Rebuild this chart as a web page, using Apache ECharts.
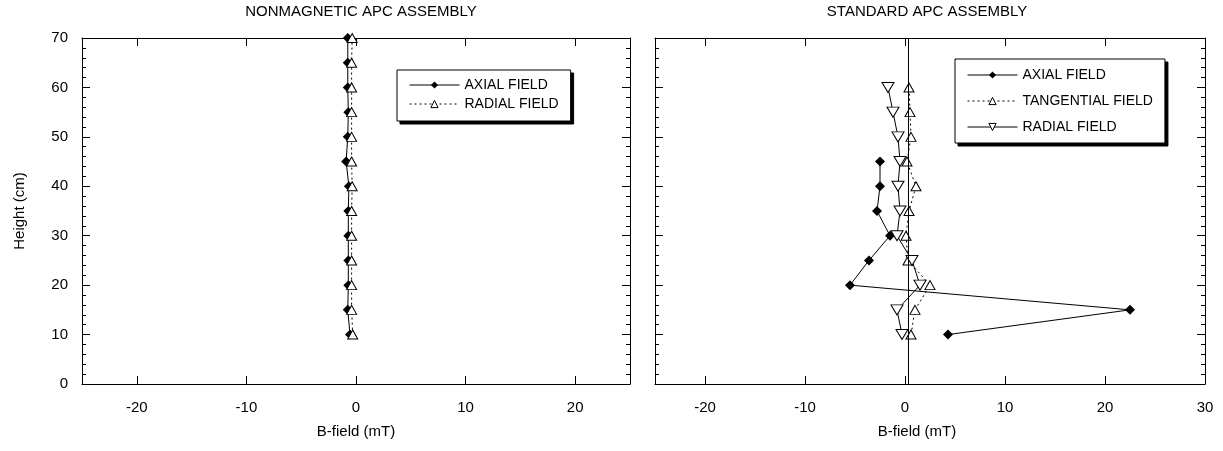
<!DOCTYPE html>
<html>
<head>
<meta charset="utf-8">
<script src="https://cdn.jsdelivr.net/npm/echarts@6/dist/echarts.min.js"></script>
<style>
    html, body { margin: 0; padding: 0; background: #fff; }
    #chart { width: 1223px; height: 451px; }
</style>
</head>
<body>
<div id="chart"></div>
<script>
// heights (cm)
var leftHeights = [10, 15, 20, 25, 30, 35, 40, 45, 50, 55, 60, 65, 70];
var leftAxial = [-0.55, -0.75, -0.7, -0.7, -0.7, -0.7, -0.65, -0.9, -0.75, -0.7, -0.75, -0.75, -0.75];
var leftRadial = [-0.3, -0.4, -0.4, -0.4, -0.4, -0.4, -0.35, -0.4, -0.4, -0.4, -0.4, -0.4, -0.35];

var axialHeights = [10, 15, 20, 25, 30, 35, 40, 45];
var rightAxial = [4.3, 22.5, -5.5, -3.6, -1.5, -2.8, -2.5, -2.5];
var rightHeights = [10, 15, 20, 25, 30, 35, 40, 45, 50, 55, 60];
var rightTangential = [0.6, 1.0, 2.5, 0.3, 0.1, 0.4, 1.1, 0.2, 0.6, 0.5, 0.4];
var rightRadial = [-0.3, -0.8, 1.5, 0.7, -0.8, -0.5, -0.7, -0.5, -0.7, -1.2, -1.7];
var zeroLine = 0.3;

// tick labels
var leftTicks = [-20, -10, 0, 10, 20];
var rightTicks = [-20, -10, 0, 10, 20, 30];

var leftNames = ['AXIAL FIELD', 'RADIAL FIELD'];
var rightNames = ['AXIAL FIELD ', 'TANGENTIAL FIELD', 'RADIAL FIELD '];

var font = 'Liberation Sans';
var downTri = 'path://M0,0 L10,0 L5,9 Z';

function pairs(xs, ys) {
    return xs.map(function (x, i) { return [x, ys[i]]; });
}

function xAx(grid, pos, min, max, ticks, show, shift) {
    return {
        type: 'value', gridIndex: grid, position: pos, min: min, max: max,
        axisLine: {show: true, onZero: false, lineStyle: {color: '#000', width: 1}},
        axisTick: {show: true, inside: true, length: 8, customValues: ticks, lineStyle: {color: '#000', width: 1}},
        axisLabel: {show: show, margin: 16, customValues: ticks, color: '#000', fontSize: 15, fontFamily: font},
        splitLine: {show: false},
        name: show ? 'B-field (mT)' : '',
        nameLocation: 'middle', nameGap: 40,
        nameTextStyle: {color: '#000', fontSize: 15, fontFamily: font, padding: [0, shift || 0, 0, 0]}
    };
}

function yAx(grid, pos, show, name) {
    return {
        type: 'value', gridIndex: grid, position: pos, min: 0, max: 70, interval: 10,
        axisLine: {show: true, onZero: false, lineStyle: {color: '#000', width: 1}},
        axisTick: {show: true, inside: true, length: 8, lineStyle: {color: '#000', width: 1}},
        minorTick: {show: true, splitNumber: 5, length: 4, lineStyle: {color: '#000', width: 1}},
        axisLabel: {show: show, margin: 14, color: '#000', fontSize: 15, fontFamily: font},
        splitLine: {show: false},
        name: name || '',
        nameLocation: 'middle', nameGap: 55,
        nameTextStyle: {color: '#000', fontSize: 15, fontFamily: font}
    };
}

// legend box; a black copy 3px lower-right works as the drop shadow
function legendBox(names, left, top, gap, pad, shadow) {
    var ink = shadow ? '#000' : undefined;
    return {
        data: names, orient: 'vertical', left: left + (shadow ? 3 : 0), top: top + (shadow ? 3 : 0),
        itemWidth: 50, itemHeight: 9, itemGap: gap, padding: pad,
        z: shadow ? 3 : 4,
        backgroundColor: shadow ? '#000' : '#fff', borderColor: '#000', borderWidth: 1,
        itemStyle: shadow ? {color: ink, borderColor: ink, borderWidth: 1} : {borderWidth: 1},
        lineStyle: shadow ? {color: ink, width: 1} : {width: 1},
        textStyle: {color: '#000', fontSize: 14, fontFamily: font}
    };
}

var solid = {color: '#000', width: 1, type: 'solid'};
var dotted = {color: '#000', width: 1, type: [2, 3]};
var openTri = {color: '#fff', borderColor: '#000', borderWidth: 1};

var myChart = echarts.init(document.getElementById('chart'));
var option = {
    animation: false,
    textStyle: {fontFamily: font},
    title: [
        {text: 'NONMAGNETIC APC ASSEMBLY', left: 356, top: -1, textAlign: 'center',
            textStyle: {fontSize: 15, fontWeight: 'normal', color: '#000', fontFamily: font}},
        {text: 'STANDARD APC ASSEMBLY', left: 922, top: -1, textAlign: 'center',
            textStyle: {fontSize: 15, fontWeight: 'normal', color: '#000', fontFamily: font}}
    ],
    legend: [
        legendBox(leftNames, 397, 70, 5, [8, 12, 10, 12], true),
        legendBox(leftNames, 397, 70, 5, [8, 12, 10, 12], false),
        legendBox(rightNames, 955, 59, 12, [9, 12, 9, 12], true),
        legendBox(rightNames, 955, 59, 12, [9, 12, 9, 12], false)
    ],
    grid: [
        {left: 82, right: 593, top: 38, bottom: 67},
        {left: 655, right: 18, top: 38, bottom: 67}
    ],
    xAxis: [
        xAx(0, 'bottom', -25, 25, leftTicks, true, 0),
        xAx(0, 'top', -25, 25, leftTicks, false),
        xAx(1, 'bottom', -25, 30, rightTicks, true, 26),
        xAx(1, 'top', -25, 30, rightTicks, false)
    ],
    yAxis: [
        yAx(0, 'left', true, 'Height (cm)'),
        yAx(0, 'right', false),
        yAx(1, 'left', false),
        yAx(1, 'right', false)
    ],
    series: [
        {
            name: leftNames[0], type: 'line', xAxisIndex: 0, yAxisIndex: 0,
            data: pairs(leftAxial, leftHeights),
            symbol: 'diamond', symbolSize: 10, itemStyle: {color: '#000'}, lineStyle: solid
        },
        {
            name: leftNames[1], type: 'line', xAxisIndex: 0, yAxisIndex: 0,
            data: pairs(leftRadial, leftHeights),
            symbol: 'triangle', symbolSize: [10, 9], itemStyle: openTri, lineStyle: dotted
        },
        {
            name: rightNames[0], type: 'line', xAxisIndex: 2, yAxisIndex: 2,
            data: pairs(rightAxial, axialHeights),
            symbol: 'diamond', symbolSize: 10, itemStyle: {color: '#000'}, lineStyle: solid,
            markLine: {
                silent: true, symbol: 'none', label: {show: false},
                lineStyle: {color: '#000', width: 1, type: 'solid'},
                data: [[{coord: [zeroLine, 0]}, {coord: [zeroLine, 70]}]]
            }
        },
        {
            name: rightNames[1], type: 'line', xAxisIndex: 2, yAxisIndex: 2,
            data: pairs(rightTangential, rightHeights),
            symbol: 'triangle', symbolSize: [10, 9], itemStyle: openTri, lineStyle: dotted
        },
        {
            name: rightNames[2], type: 'line', xAxisIndex: 2, yAxisIndex: 2,
            data: pairs(rightRadial, rightHeights),
            symbol: downTri, symbolSize: [12, 10], itemStyle: openTri, lineStyle: solid
        }
    ]
};
myChart.setOption(option);
</script>
</body>
</html>
